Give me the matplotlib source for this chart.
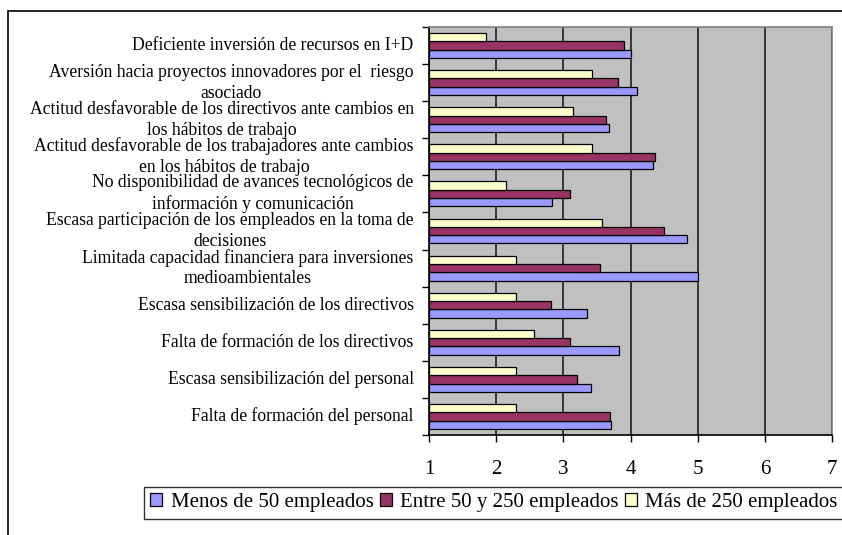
import matplotlib
matplotlib.use("Agg")
import matplotlib.pyplot as plt
import numpy as np
from matplotlib.patches import Rectangle

categories = [
    "Deficiente inversión de recursos en I+D",
    "Aversión hacia proyectos innovadores por el  riesgo\nasociado",
    "Actitud desfavorable de los directivos ante cambios en\nlos hábitos de trabajo",
    "Actitud desfavorable de los trabajadores ante cambios\nen los hábitos de trabajo",
    "No disponibilidad de avances tecnológicos de\ninformación y comunicación",
    "Escasa participación de los empleados en la toma de\ndecisiones",
    "Limitada capacidad financiera para inversiones\nmedioambientales",
    "Escasa sensibilización de los directivos",
    "Falta de formación de los directivos",
    "Escasa sensibilización del personal",
    "Falta de formación del personal",
]
menos_50 = [4.0, 4.10, 3.68, 4.34, 2.83, 4.84, 5.0, 3.35, 3.83, 3.41, 3.71]
entre_50_250 = [3.91, 3.81, 3.63, 4.37, 3.10, 4.50, 3.55, 2.81, 3.10, 3.21, 3.70]
mas_250 = [1.85, 3.43, 3.14, 3.43, 2.14, 3.57, 2.30, 2.30, 2.56, 2.30, 2.30]
series_names = ["Menos de 50 empleados", "Entre 50 y 250 empleados", "Más de 250 empleados"]
colors = ["#9999FF", "#993366", "#FFFFCC"]
xticks = [1, 2, 3, 4, 5, 6, 7]

plt.rcParams['font.family'] = ['Liberation Serif', 'DejaVu Serif']

W, H = 842, 535
fig = plt.figure(figsize=(W / 100, H / 100), dpi=100)

# outer chart border
fig.patches.append(Rectangle((7.5 / W, -0.1), 1.2, 1 - 10.5 / H + 0.1,
                             transform=fig.transFigure, fill=False,
                             edgecolor='black', linewidth=1.2))

ax = fig.add_axes([429 / W, 1 - 435 / H, (832 - 429) / W, (435 - 27) / H])
ax.set_facecolor('#C0C0C0')

n = len(categories)
y = np.arange(n)
h = 0.224
base = 1
offsets = [h, 0, -h]  # blue bottom, red middle, yellow top (inverted axis)
data = [menos_50, entre_50_250, mas_250]
handles = []
for vals, off, col, name in zip(data, offsets, colors, series_names):
    widths = [v - base for v in vals]
    b = ax.barh(y + off, widths, left=base, height=h, color=col,
                edgecolor='black', linewidth=0.9, label=name, zorder=3)
    handles.append(b)

ax.set_xlim(1, 7)
ax.set_ylim(n - 0.5, -0.5)
ax.set_xticks(xticks)
ax.set_xticklabels([str(t) for t in xticks], fontsize=15)
ax.tick_params(axis='x', direction='out', length=5, width=1, pad=13, colors='black')
ax.grid(axis='x', color='#202020', linewidth=1.2, zorder=1)

ax.set_yticks(y)
ax.set_yticklabels(categories, fontsize=12.7, linespacing=1.3, ha='right',
                   va='center', multialignment='center')
ax.tick_params(axis='y', which='major', length=0, pad=11)
ax.set_yticks(np.arange(-0.5, n, 1.0), minor=True)
ax.tick_params(axis='y', which='minor', direction='out', length=5, width=1)

for side in ['top', 'right']:
    ax.spines[side].set_color('#808080')
    ax.spines[side].set_linewidth(1.2)
for side in ['left', 'bottom']:
    ax.spines[side].set_color('black')
    ax.spines[side].set_linewidth(1.2)

leg = fig.legend(handles=handles, labels=series_names, loc='upper left',
                 bbox_to_anchor=(144 / W, 1 - 487 / H), ncol=3, fontsize=15,
                 frameon=True, fancybox=False, edgecolor='black',
                 handlelength=0.58, handleheight=0.58, handletextpad=0.4,
                 columnspacing=0.3, borderpad=0.3, borderaxespad=0)
leg.get_frame().set_linewidth(1.0)

fig.savefig("out.png", dpi=100)
